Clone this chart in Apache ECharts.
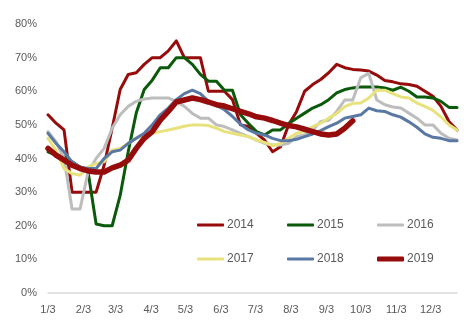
<!DOCTYPE html>
<html>
<head>
<meta charset="utf-8">
<script src="https://cdn.jsdelivr.net/npm/echarts@6/dist/echarts.min.js"></script>
<style>
  html, body { margin: 0; padding: 0; background: #fff; }
  #chart { width: 471px; height: 329px; }
</style>
</head>
<body>
<div id="chart"></div>
<script>
// Weekly utilisation rate (%), one value per week starting on 3 January
var years = ['2014', '2015', '2016', '2017', '2018', '2019'];
var s2014 = [53,50.5,48.5,30,30,30,30,38,49,60.5,65,65.5,68,70,70,72,75,70,70,70,60,60,60,57.5,50,49.5,47.5,45.5,42,43.5,50,54,60,62,63.5,65.5,68,67,66.5,66.3,66,64.8,63.2,62.8,62.2,62,61.5,60,58.5,55.5,51,48.5];
var s2015 = [42,41,40.5,39,37.5,36,20.5,20,20,29,42,53.5,60.5,63.3,67,67,70,70,68,65,63,63,60.3,60.3,53,50.4,48,47,48.5,48.5,50.4,52,53.5,55,56,57.5,59.5,60.5,61,61.3,61.3,61.3,61,60.3,61.2,60,58.3,58.3,58,57,55.2,55.2];
var s2016 = [48,45,40,25,25,36,40,43,49,53,55.5,57,57.7,58,58,58,57,55.5,53.4,52,52,50,49.5,48.5,47.5,46.5,45.5,44.5,44,44,44.5,46.5,47,48.5,51,51.4,54,57.4,57.4,64,65.3,57.4,56,55.3,55,53.5,52,50,50,47.5,46,45.5];
var s2017 = [46,42.5,37,35.5,35,37.5,38.5,39,42.5,43,44.5,46,47,47.5,48,48.5,49,49.6,50,50,49.8,49,48,47.5,47,46.5,45.5,44.8,43.8,44.5,46,47.5,48,49.5,50.5,52,53.4,55.4,56.4,56.5,58,60.3,60.3,59.3,58.3,58,56.5,55.5,54.3,52.4,50,48.5];
var s2018 = [47.5,44.5,42,39,37.5,37,37,40,42,42.5,44.5,46,47.5,50,53,55,57.5,59.3,60.3,59.3,57,55.8,54.5,52.5,50.2,48.5,47.5,47,46,45.3,45.3,45.7,46.5,47.3,48.3,49.5,50.5,52,52.5,53,55,54.2,54,53,52.3,50.9,49.3,47.3,46.3,46,45.3,45.3];
var s2019 = [43,41,39.5,38,37,36.3,36,36,37.2,38,39.5,43,46,48,51.4,54,56.8,57.4,58,57.5,56.8,56,55.6,54.8,54,53.3,52.4,52,51.3,50.5,49.8,49.4,48.7,48,47.3,47,47.3,49,51.2];
var yTicks = [0, 10, 20, 30, 40, 50, 60, 70, 80];

var seriesValues = [s2014, s2015, s2016, s2017, s2018, s2019];
var colors = ['#960b0b', '#0b5a0b', '#bdbdbd', '#e8e27c', '#5a78a4', '#960b0b'];
var widths = [3, 3, 3, 3, 3, 5.5];

// Daily categories from 3 Jan; month labels fall on each 3rd
var daysPerStep = 7;
var totalDays = 51 * daysPerStep + 1;
var dayLabels = [];
for (var i = 0; i < totalDays; i++) {
  var d = new Date(Date.UTC(2019, 0, 3 + i));
  dayLabels.push((d.getUTCMonth() + 1) + '/' + d.getUTCDate());
}

var series = years.map(function (name, k) {
  return {
    name: name,
    type: 'line',
    data: seriesValues[k].map(function (v, w) { return [w * daysPerStep, v]; }),
    showSymbol: false,
    symbol: 'none',
    smooth: false,
    lineStyle: { color: colors[k], width: widths[k], join: 'round', cap: 'round' },
    itemStyle: { color: colors[k] },
    emphasis: { disabled: true },
    z: 2 + k
  };
});

// One legend per entry, laid out in a 3 x 2 block
var legendCols = [197, 287, 377];
var legendRows = [219, 253];
var legends = years.map(function (name, k) {
  return {
    data: [{ name: name, icon: 'roundRect' }],
    left: legendCols[k % 3],
    top: legendRows[Math.floor(k / 3)],
    padding: 0,
    itemWidth: 27,
    itemHeight: k === 5 ? 5 : 3,
    itemGap: 0,
    selectedMode: false,
    textStyle: { color: '#595959', fontSize: 12, fontFamily: 'Liberation Sans', padding: [0, 0, 0, -2] }
  };
});

var chart = echarts.init(document.getElementById('chart'), null, { renderer: 'canvas' });
chart.setOption({
  animation: false,
  backgroundColor: '#ffffff',
  grid: { left: 48, right: 14, top: 24, bottom: 36, containLabel: false },
  legend: legends,
  xAxis: {
    type: 'category',
    data: dayLabels,
    boundaryGap: false,
    axisLine: { show: true, lineStyle: { color: '#d9d9d9', width: 1.5 } },
    axisTick: { show: false },
    splitLine: { show: false },
    axisLabel: {
      interval: function (idx, val) { return /\/3$/.test(val); },
      color: '#595959',
      fontSize: 11,
      fontFamily: 'Liberation Sans',
      margin: 11
    }
  },
  yAxis: {
    type: 'value',
    min: yTicks[0],
    max: yTicks[yTicks.length - 1],
    interval: yTicks[1] - yTicks[0],
    axisLine: { show: false },
    axisTick: { show: false },
    splitLine: { show: false },
    axisLabel: {
      formatter: '{value}%',
      color: '#595959',
      fontSize: 11,
      fontFamily: 'Liberation Sans',
      margin: 11
    }
  },
  series: series
});
</script>
</body>
</html>
